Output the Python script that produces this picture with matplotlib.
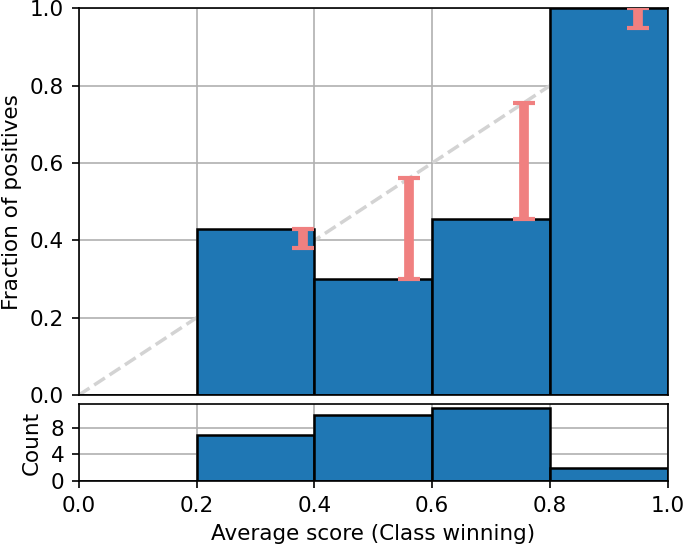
import numpy as np
import matplotlib.pyplot as plt

# calibration bins
bin_edges = [0.0, 0.2, 0.4, 0.6, 0.8, 1.0]
frac_pos = [0.0, 0.43, 0.30, 0.455, 1.0]
counts = [0, 7, 10, 11, 2]
mean_score = [0.38, 0.56, 0.755, 0.95]
gap_frac = [0.43, 0.30, 0.455, 1.0]

plt.rcParams.update({
    'font.size': 15.5,
    'xtick.major.size': 5.25, 'ytick.major.size': 5.25,
    'xtick.major.width': 1.2, 'ytick.major.width': 1.2,
    'xtick.major.pad': 5.25, 'ytick.major.pad': 5.25,
    'axes.labelpad': 6,
})

fig = plt.figure(figsize=(6.85, 5.48), dpi=100)
ax = fig.add_axes([0.115, 0.279, 0.86, 0.706])
ax2 = fig.add_axes([0.115, 0.122, 0.86, 0.141])

lefts = np.array(bin_edges[:-1])
widths = np.diff(bin_edges)

ax.grid(True, color='#b0b0b0', lw=1.2, zorder=0)
ax.set_axisbelow(True)
ax.plot([0, 1], [0, 1], ls='--', color='lightgray', lw=2.5, zorder=1)
ax.bar(lefts, frac_pos, width=widths, align='edge', color='#1f77b4',
       edgecolor='black', lw=1.8, zorder=2)
lo = np.minimum(mean_score, gap_frac)
hi = np.maximum(mean_score, gap_frac)
ax.errorbar(mean_score, (lo + hi) / 2, yerr=(hi - lo) / 2, fmt='none',
            ecolor='lightcoral', elinewidth=7, capsize=8, capthick=3, zorder=3)
ax.set_xlim(0, 1)
ax.set_ylim(0, 1)
ax.set_xticks([0, 0.2, 0.4, 0.6, 0.8, 1.0])
ax.set_xticklabels([])
ax.tick_params(axis='x', length=0)
ax.set_ylabel('Fraction of positives')

ax2.grid(True, color='#b0b0b0', lw=1.2, zorder=0)
ax2.set_axisbelow(True)
ax2.bar(lefts, counts, width=widths, align='edge', color='#1f77b4',
        edgecolor='black', lw=1.8, zorder=2)
ax2.set_xlim(0, 1)
ax2.set_ylim(0, 11.6)
ax2.set_yticks([0, 4, 8])
ax2.set_xticks([0, 0.2, 0.4, 0.6, 0.8, 1.0])
ax2.set_ylabel('Count')
ax2.set_xlabel('Average score (Class winning)')

for a in (ax, ax2):
    for s in a.spines.values():
        s.set_linewidth(1.2)

fig.savefig('out.png', dpi=100)
